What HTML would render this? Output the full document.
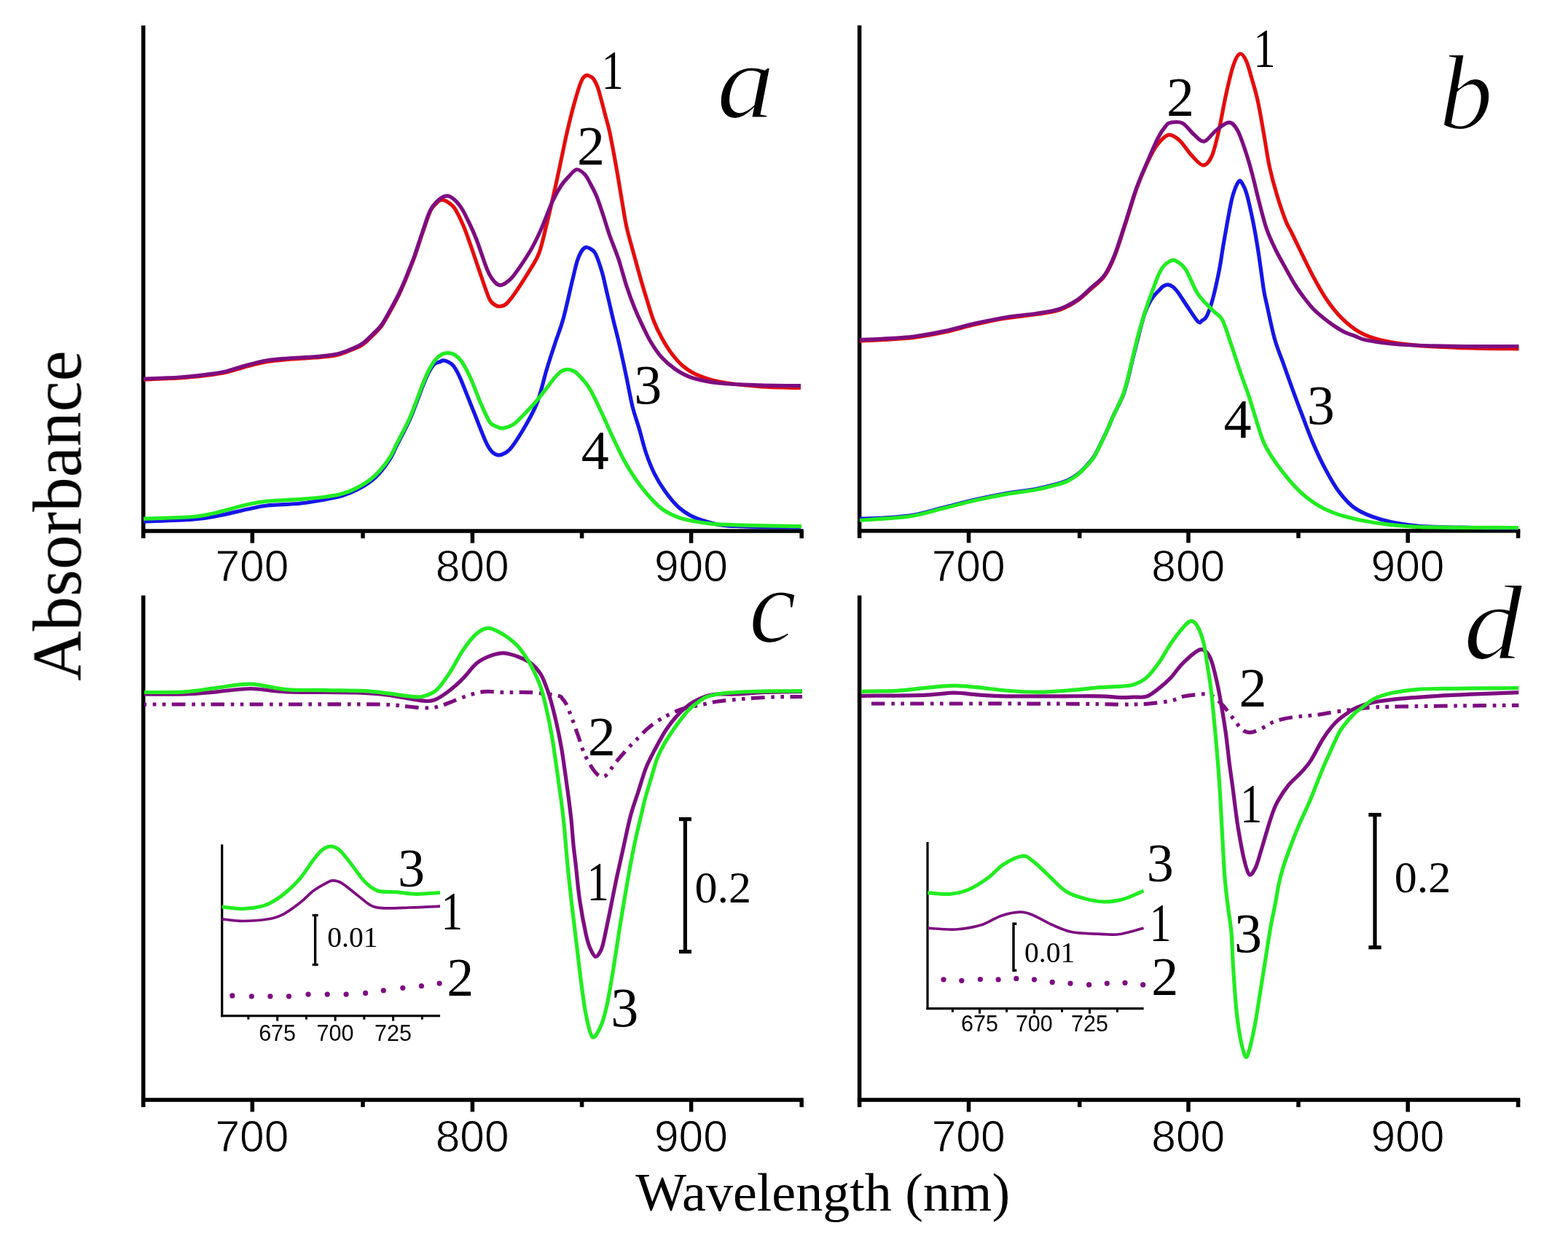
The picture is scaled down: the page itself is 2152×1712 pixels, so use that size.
<!DOCTYPE html>
<html><head><meta charset="utf-8"><title>Absorbance spectra</title>
<style>html,body{margin:0;padding:0;background:#fff;}svg{display:block;}</style></head>
<body><svg width="2152" height="1712" viewBox="0 0 2152 1712">
<defs><filter id="soft" x="0" y="0" width="1" height="1"><feGaussianBlur stdDeviation="0.7"/></filter></defs>
<rect width="2152" height="1712" fill="#fff"/>
<g filter="url(#soft)">
<line x1="196.7" y1="35" x2="196.7" y2="739.1" stroke="#000" stroke-width="5.5" stroke-linecap="butt"/>
<line x1="193.95" y1="729.1" x2="1102.8" y2="729.1" stroke="#000" stroke-width="5.5" stroke-linecap="butt"/>
<line x1="346.3" y1="729.1" x2="346.3" y2="745.6" stroke="#000" stroke-width="5.5" stroke-linecap="butt"/>
<line x1="648.4" y1="729.1" x2="648.4" y2="745.6" stroke="#000" stroke-width="5.5" stroke-linecap="butt"/>
<line x1="948.6" y1="729.1" x2="948.6" y2="745.6" stroke="#000" stroke-width="5.5" stroke-linecap="butt"/>
<line x1="498.0" y1="729.1" x2="498.0" y2="739.1" stroke="#000" stroke-width="5.5" stroke-linecap="butt"/>
<line x1="798.6" y1="729.1" x2="798.6" y2="739.1" stroke="#000" stroke-width="5.5" stroke-linecap="butt"/>
<line x1="1100.2" y1="729.1" x2="1100.2" y2="739.1" stroke="#000" stroke-width="5.5" stroke-linecap="butt"/>
<line x1="1179.6" y1="34.8" x2="1179.6" y2="738.8" stroke="#000" stroke-width="5.5" stroke-linecap="butt"/>
<line x1="1176.85" y1="728.8" x2="2086.3" y2="728.8" stroke="#000" stroke-width="5.5" stroke-linecap="butt"/>
<line x1="1329.5" y1="728.8" x2="1329.5" y2="745.3" stroke="#000" stroke-width="5.5" stroke-linecap="butt"/>
<line x1="1631.0" y1="728.8" x2="1631.0" y2="745.3" stroke="#000" stroke-width="5.5" stroke-linecap="butt"/>
<line x1="1932.2" y1="728.8" x2="1932.2" y2="745.3" stroke="#000" stroke-width="5.5" stroke-linecap="butt"/>
<line x1="1481.7" y1="728.8" x2="1481.7" y2="738.8" stroke="#000" stroke-width="5.5" stroke-linecap="butt"/>
<line x1="1782.0" y1="728.8" x2="1782.0" y2="738.8" stroke="#000" stroke-width="5.5" stroke-linecap="butt"/>
<line x1="2083.6" y1="728.8" x2="2083.6" y2="738.8" stroke="#000" stroke-width="5.5" stroke-linecap="butt"/>
<line x1="196.7" y1="817.5" x2="196.7" y2="1519.9" stroke="#000" stroke-width="5.5" stroke-linecap="butt"/>
<line x1="193.95" y1="1509.9" x2="1102.8" y2="1509.9" stroke="#000" stroke-width="5.5" stroke-linecap="butt"/>
<line x1="346.3" y1="1509.9" x2="346.3" y2="1526.4" stroke="#000" stroke-width="5.5" stroke-linecap="butt"/>
<line x1="648.4" y1="1509.9" x2="648.4" y2="1526.4" stroke="#000" stroke-width="5.5" stroke-linecap="butt"/>
<line x1="948.6" y1="1509.9" x2="948.6" y2="1526.4" stroke="#000" stroke-width="5.5" stroke-linecap="butt"/>
<line x1="498.0" y1="1509.9" x2="498.0" y2="1519.9" stroke="#000" stroke-width="5.5" stroke-linecap="butt"/>
<line x1="798.6" y1="1509.9" x2="798.6" y2="1519.9" stroke="#000" stroke-width="5.5" stroke-linecap="butt"/>
<line x1="1100.2" y1="1509.9" x2="1100.2" y2="1519.9" stroke="#000" stroke-width="5.5" stroke-linecap="butt"/>
<line x1="1179.6" y1="817.6" x2="1179.6" y2="1520" stroke="#000" stroke-width="5.5" stroke-linecap="butt"/>
<line x1="1176.85" y1="1510" x2="2086.3" y2="1510" stroke="#000" stroke-width="5.5" stroke-linecap="butt"/>
<line x1="1329.5" y1="1510" x2="1329.5" y2="1526.5" stroke="#000" stroke-width="5.5" stroke-linecap="butt"/>
<line x1="1631.0" y1="1510" x2="1631.0" y2="1526.5" stroke="#000" stroke-width="5.5" stroke-linecap="butt"/>
<line x1="1932.2" y1="1510" x2="1932.2" y2="1526.5" stroke="#000" stroke-width="5.5" stroke-linecap="butt"/>
<line x1="1481.7" y1="1510" x2="1481.7" y2="1520" stroke="#000" stroke-width="5.5" stroke-linecap="butt"/>
<line x1="1782.0" y1="1510" x2="1782.0" y2="1520" stroke="#000" stroke-width="5.5" stroke-linecap="butt"/>
<line x1="2083.6" y1="1510" x2="2083.6" y2="1520" stroke="#000" stroke-width="5.5" stroke-linecap="butt"/>
<text x="295.48" y="798.27" font-family="Liberation Sans, Arial, sans-serif" font-style="normal" font-size="60.5" stroke="#fff" stroke-width="0.9">700</text>
<text x="597.73" y="798.27" font-family="Liberation Sans, Arial, sans-serif" font-style="normal" font-size="60.5" stroke="#fff" stroke-width="0.9">800</text>
<text x="897.93" y="798.27" font-family="Liberation Sans, Arial, sans-serif" font-style="normal" font-size="60.5" stroke="#fff" stroke-width="0.9">900</text>
<text x="1278.68" y="798.27" font-family="Liberation Sans, Arial, sans-serif" font-style="normal" font-size="60.5" stroke="#fff" stroke-width="0.9">700</text>
<text x="1580.33" y="798.27" font-family="Liberation Sans, Arial, sans-serif" font-style="normal" font-size="60.5" stroke="#fff" stroke-width="0.9">800</text>
<text x="1881.53" y="798.27" font-family="Liberation Sans, Arial, sans-serif" font-style="normal" font-size="60.5" stroke="#fff" stroke-width="0.9">900</text>
<text x="295.48" y="1580.77" font-family="Liberation Sans, Arial, sans-serif" font-style="normal" font-size="60.5" stroke="#fff" stroke-width="0.9">700</text>
<text x="597.73" y="1580.77" font-family="Liberation Sans, Arial, sans-serif" font-style="normal" font-size="60.5" stroke="#fff" stroke-width="0.9">800</text>
<text x="897.93" y="1580.77" font-family="Liberation Sans, Arial, sans-serif" font-style="normal" font-size="60.5" stroke="#fff" stroke-width="0.9">900</text>
<text x="1278.68" y="1580.97" font-family="Liberation Sans, Arial, sans-serif" font-style="normal" font-size="60.5" stroke="#fff" stroke-width="0.9">700</text>
<text x="1580.33" y="1580.97" font-family="Liberation Sans, Arial, sans-serif" font-style="normal" font-size="60.5" stroke="#fff" stroke-width="0.9">800</text>
<text x="1881.53" y="1580.97" font-family="Liberation Sans, Arial, sans-serif" font-style="normal" font-size="60.5" stroke="#fff" stroke-width="0.9">900</text>
<path d="M197.0,521.0 C205.2,520.7 231.7,519.9 246.0,519.0 C260.3,518.1 272.2,516.8 283.0,515.5 C293.8,514.2 301.7,513.1 311.0,511.0 C320.3,508.9 329.7,505.4 339.0,503.0 C348.3,500.6 357.7,498.1 367.0,496.5 C376.3,494.9 384.2,494.4 395.0,493.5 C405.8,492.6 421.2,491.9 432.0,491.0 C442.8,490.1 452.3,489.5 460.0,488.0 C467.7,486.5 471.8,484.4 478.0,482.0 C484.2,479.6 491.3,477.2 497.0,473.5 C502.7,469.8 507.6,464.2 512.0,460.0 C516.4,455.8 519.4,453.4 523.3,448.0 C527.2,442.6 531.5,434.4 535.4,427.5 C539.3,420.6 543.5,412.8 546.6,406.5 C549.7,400.2 551.6,395.8 554.1,390.0 C556.6,384.2 559.1,377.8 561.6,371.5 C564.1,365.2 565.9,361.2 569.0,352.5 C572.1,343.8 576.3,330.1 580.0,319.5 C583.7,308.9 587.7,295.9 591.0,289.0 C594.3,282.1 597.7,280.4 600.0,278.0 C602.3,275.6 603.0,274.8 605.0,274.5 C607.0,274.2 608.8,274.1 612.0,276.0 C615.2,277.9 620.0,280.3 624.0,286.0 C628.0,291.7 632.3,301.5 636.0,310.0 C639.7,318.5 641.8,325.2 646.0,337.0 C650.2,348.8 656.7,368.7 661.0,381.0 C665.3,393.3 668.8,404.7 672.0,411.0 C675.2,417.3 677.6,417.4 680.0,419.0 C682.4,420.6 684.0,421.0 686.5,420.7 C689.0,420.4 691.8,419.9 695.0,417.0 C698.2,414.1 700.5,411.5 706.0,403.6 C711.5,395.7 722.3,378.8 728.0,369.4 C733.7,360.0 736.2,357.4 740.0,347.0 C743.8,336.6 747.0,321.2 750.5,307.0 C754.0,292.8 757.9,275.7 761.0,262.0 C764.1,248.3 766.5,236.8 769.0,225.0 C771.5,213.2 773.8,201.7 776.0,191.5 C778.2,181.3 780.5,171.8 782.5,163.6 C784.5,155.4 785.9,149.9 788.0,142.5 C790.1,135.1 792.9,125.0 795.0,119.0 C797.1,113.0 798.6,109.4 800.4,106.8 C802.2,104.2 804.1,103.5 806.0,103.4 C807.9,103.3 810.5,105.1 812.0,106.0 C813.5,106.9 813.6,106.7 815.0,109.0 C816.4,111.3 818.6,114.8 820.4,120.0 C822.2,125.2 824.1,133.1 826.0,140.0 C827.9,146.9 829.9,155.1 831.6,161.4 C833.3,167.7 834.5,171.5 836.0,178.0 C837.5,184.5 839.0,192.6 840.5,200.4 C842.0,208.2 843.6,217.1 845.0,225.0 C846.4,232.9 847.7,240.2 849.0,248.0 C850.3,255.8 851.2,261.5 853.0,272.0 C854.8,282.5 857.1,298.6 859.8,311.0 C862.5,323.4 866.1,335.0 869.2,346.5 C872.3,358.0 875.4,369.3 878.5,380.2 C881.6,391.1 884.9,402.0 888.0,412.0 C891.1,422.0 893.6,431.3 897.0,440.0 C900.4,448.7 904.3,456.8 908.4,464.3 C912.5,471.8 916.8,478.8 921.5,485.0 C926.2,491.2 930.8,496.9 936.4,501.7 C942.0,506.5 946.6,510.1 955.0,513.8 C963.4,517.5 972.3,521.2 987.0,524.0 C1001.7,526.8 1024.3,529.3 1043.0,530.7 C1061.7,532.1 1089.7,532.2 1099.0,532.5" fill="none" stroke="#e40e0e" stroke-width="5.2" stroke-linejoin="round" stroke-linecap="butt" />
<path d="M197.0,520.0 C205.2,519.7 231.7,519.0 246.0,518.0 C260.3,517.0 272.2,515.7 283.0,514.3 C293.8,512.9 301.7,511.9 311.0,509.7 C320.3,507.5 329.7,503.8 339.0,501.3 C348.3,498.8 357.7,496.4 367.0,494.8 C376.3,493.2 384.2,492.8 395.0,492.0 C405.8,491.2 421.2,490.7 432.0,489.8 C442.8,488.9 452.3,488.0 460.0,486.5 C467.7,485.0 471.8,483.4 478.0,481.0 C484.2,478.6 491.3,475.8 497.0,472.0 C502.7,468.2 507.6,462.8 512.0,458.5 C516.4,454.2 519.4,451.9 523.3,446.5 C527.2,441.1 531.5,432.9 535.4,426.0 C539.3,419.1 543.5,411.2 546.6,405.0 C549.7,398.8 551.6,394.3 554.1,388.5 C556.6,382.7 559.1,376.2 561.6,370.0 C564.1,363.8 565.9,359.7 569.0,351.0 C572.1,342.3 576.3,328.5 580.0,318.0 C583.7,307.5 586.8,295.7 591.0,288.0 C595.2,280.3 600.7,275.1 605.0,272.0 C609.3,268.9 612.6,267.9 617.0,269.7 C621.4,271.5 627.2,277.3 631.5,283.0 C635.8,288.7 639.2,296.3 643.0,304.0 C646.8,311.7 649.7,317.8 654.0,329.0 C658.3,340.2 665.0,361.5 669.0,371.0 C673.0,380.5 675.1,382.6 678.0,386.0 C680.9,389.4 683.5,391.5 686.5,391.7 C689.5,391.9 692.8,389.4 696.0,387.0 C699.2,384.6 700.7,384.2 706.0,377.0 C711.3,369.8 721.8,354.5 728.0,344.0 C734.2,333.5 738.0,325.2 743.0,314.0 C748.0,302.8 753.5,286.8 758.0,277.0 C762.5,267.2 766.3,260.7 770.0,255.0 C773.7,249.3 776.4,246.7 780.0,243.0 C783.6,239.3 787.6,233.4 791.4,232.8 C795.2,232.2 799.5,236.3 802.6,239.5 C805.7,242.7 807.3,246.6 810.0,251.7 C812.7,256.8 816.0,262.6 819.0,270.0 C822.0,277.4 825.0,287.0 828.0,296.0 C831.0,305.0 833.5,314.0 837.0,324.0 C840.5,334.0 845.2,344.5 849.0,356.0 C852.8,367.5 856.3,381.8 860.0,393.0 C863.7,404.2 867.3,413.9 871.0,423.0 C874.7,432.1 878.2,439.7 882.0,447.5 C885.8,455.3 889.2,462.8 893.5,470.0 C897.8,477.2 902.4,484.3 908.0,490.5 C913.6,496.7 920.1,502.3 927.0,507.0 C933.9,511.7 939.5,515.3 949.5,518.5 C959.5,521.7 971.4,524.3 987.0,526.0 C1002.6,527.7 1024.3,528.2 1043.0,528.8 C1061.7,529.4 1089.7,529.6 1099.0,529.7" fill="none" stroke="#7d0a80" stroke-width="5.2" stroke-linejoin="round" stroke-linecap="butt" />
<path d="M197.0,716.0 C208.2,715.5 246.8,714.5 264.0,713.2 C281.2,711.9 287.5,710.3 300.0,708.0 C312.5,705.7 327.8,701.6 339.0,699.3 C350.2,697.0 354.7,695.4 367.0,694.0 C379.3,692.6 399.2,692.5 413.0,691.0 C426.8,689.5 440.5,686.8 450.0,685.0 C459.5,683.2 463.6,682.5 470.0,680.5 C476.4,678.5 482.5,676.1 488.7,673.0 C494.9,669.9 501.9,666.0 507.4,662.0 C512.9,658.0 516.7,654.3 521.4,649.0 C526.1,643.7 531.5,636.3 535.4,630.0 C539.3,623.7 541.7,617.2 544.8,611.0 C547.9,604.8 551.0,599.2 554.1,593.0 C557.2,586.8 560.6,580.2 563.5,573.5 C566.4,566.8 568.9,559.8 571.7,552.5 C574.5,545.2 577.7,536.2 580.4,529.5 C583.1,522.8 585.4,516.9 588.0,512.0 C590.6,507.1 593.5,502.5 596.0,500.0 C598.5,497.5 600.7,497.8 603.0,497.0 C605.3,496.2 606.8,494.3 610.0,495.1 C613.2,495.9 618.6,498.4 622.0,502.0 C625.4,505.6 627.8,511.1 630.5,516.7 C633.2,522.3 635.0,527.3 638.4,535.7 C641.8,544.1 646.3,555.5 651.0,567.3 C655.7,579.1 662.8,597.9 666.8,606.7 C670.8,615.5 672.1,617.0 675.0,620.0 C677.9,623.0 681.0,624.5 684.0,624.8 C687.0,625.1 689.8,624.0 693.0,622.0 C696.2,620.0 698.2,619.5 703.0,613.0 C707.8,606.5 716.2,593.2 722.0,583.0 C727.8,572.8 733.0,564.1 737.7,551.5 C742.4,538.9 746.3,520.5 750.3,507.3 C754.2,494.2 757.6,484.2 761.4,472.6 C765.2,461.0 769.1,451.8 773.0,437.8 C776.9,423.8 781.5,401.8 784.7,388.7 C787.9,375.6 789.8,366.3 792.0,359.0 C794.2,351.7 796.0,348.2 798.0,345.0 C800.0,341.8 801.8,340.1 804.0,339.6 C806.2,339.1 808.8,340.5 811.0,342.0 C813.2,343.5 814.9,343.2 817.4,348.5 C819.9,353.8 823.6,364.5 826.3,373.8 C829.0,383.1 831.1,394.1 833.6,404.5 C836.1,414.9 838.2,424.6 841.0,436.3 C843.8,448.1 847.4,461.4 850.5,475.0 C853.6,488.6 856.9,504.2 859.8,518.0 C862.7,531.8 865.1,546.2 868.0,558.0 C870.9,569.8 874.3,578.3 877.4,589.0 C880.5,599.7 883.2,611.7 886.7,622.0 C890.2,632.3 894.0,642.0 898.3,650.6 C902.6,659.2 907.1,666.4 912.3,673.8 C917.5,681.2 923.9,689.2 929.7,694.8 C935.5,700.4 941.3,704.2 947.1,707.5 C952.9,710.8 957.8,712.3 964.6,714.5 C971.4,716.7 980.1,719.3 987.8,720.6 C995.5,721.9 1000.6,722.0 1011.0,722.5 C1021.4,723.0 1035.3,723.2 1050.0,723.5 C1064.7,723.8 1090.8,723.9 1099.0,724.0" fill="none" stroke="#1414e6" stroke-width="5.2" stroke-linejoin="round" stroke-linecap="butt" />
<path d="M197.0,712.3 C208.2,711.8 248.2,710.7 264.0,709.5 C279.8,708.3 279.5,707.8 292.0,705.0 C304.5,702.2 326.5,695.6 339.0,692.8 C351.5,690.0 354.7,689.3 367.0,688.1 C379.3,686.9 399.2,686.5 413.0,685.4 C426.8,684.3 440.5,682.9 450.0,681.6 C459.5,680.3 463.6,679.7 470.0,677.8 C476.4,675.9 482.5,673.4 488.7,670.3 C494.9,667.2 501.9,663.1 507.4,659.1 C512.9,655.1 516.7,651.3 521.4,646.0 C526.1,640.7 531.5,633.5 535.4,627.3 C539.3,621.1 541.7,614.7 544.8,608.6 C547.9,602.5 551.0,597.0 554.1,590.8 C557.2,584.6 560.6,578.0 563.5,571.2 C566.4,564.4 568.9,557.5 571.7,550.1 C574.5,542.7 577.7,533.8 580.4,527.0 C583.1,520.2 585.3,514.9 588.0,509.5 C590.7,504.1 593.7,498.7 596.8,494.8 C599.9,490.9 603.5,488.0 606.7,486.3 C609.9,484.6 612.9,484.4 615.9,484.6 C618.9,484.8 621.8,485.6 624.7,487.5 C627.6,489.4 629.9,490.9 633.5,496.3 C637.1,501.7 642.0,510.7 646.2,519.9 C650.4,529.1 654.7,541.8 658.9,551.5 C663.1,561.2 668.0,572.7 671.5,578.3 C675.0,583.9 676.9,583.4 680.0,585.0 C683.1,586.6 686.0,588.4 690.4,587.8 C694.8,587.2 699.6,586.5 706.2,581.5 C712.8,576.5 723.2,564.9 729.8,557.8 C736.4,550.7 740.3,545.5 745.6,538.9 C750.9,532.3 757.3,523.2 761.4,518.4 C765.5,513.6 767.4,511.9 770.0,510.0 C772.6,508.1 774.7,507.6 777.2,507.3 C779.7,507.1 782.4,507.4 785.0,508.5 C787.6,509.6 788.9,509.6 792.9,513.6 C796.9,517.6 803.4,524.2 808.7,532.6 C814.0,541.0 819.2,553.1 824.5,564.1 C829.8,575.1 835.0,587.6 840.3,598.8 C845.5,609.9 850.8,621.3 856.0,631.0 C861.2,640.7 866.5,649.2 871.8,657.0 C877.1,664.8 881.8,671.0 887.6,677.7 C893.4,684.4 899.5,691.7 906.5,697.1 C913.5,702.5 922.0,706.8 929.7,709.9 C937.4,713.0 945.1,714.2 952.9,715.7 C960.6,717.2 966.5,718.3 976.2,719.2 C985.9,720.1 990.4,720.3 1011.0,720.9 C1031.6,721.5 1085.2,722.3 1100.0,722.6" fill="none" stroke="#22ec22" stroke-width="5.2" stroke-linejoin="round" stroke-linecap="butt" />
<path d="M1180.0,468.0 C1185.3,467.8 1199.7,467.2 1212.0,466.5 C1224.3,465.8 1240.0,465.2 1254.0,463.5 C1268.0,461.8 1282.0,459.0 1296.0,456.0 C1310.0,453.0 1324.0,448.7 1338.0,445.5 C1352.0,442.3 1366.0,439.3 1380.0,437.0 C1394.0,434.7 1409.7,433.4 1422.0,431.5 C1434.3,429.6 1444.5,428.7 1454.0,425.5 C1463.5,422.3 1471.7,417.4 1479.0,412.5 C1486.3,407.6 1491.8,401.6 1498.0,396.0 C1504.2,390.4 1510.6,386.4 1515.9,379.0 C1521.2,371.6 1525.2,363.0 1529.8,351.5 C1534.4,340.0 1538.7,325.2 1543.7,310.0 C1548.7,294.8 1554.6,274.0 1559.6,260.0 C1564.6,246.0 1569.2,235.5 1573.5,226.0 C1577.8,216.5 1581.8,208.8 1585.4,203.0 C1589.0,197.2 1591.7,194.0 1595.0,191.0 C1598.3,188.0 1601.3,184.8 1605.3,185.1 C1609.3,185.4 1614.2,188.5 1619.2,193.1 C1624.2,197.7 1629.8,207.3 1635.1,212.9 C1640.4,218.5 1646.4,226.5 1651.0,226.8 C1655.6,227.1 1659.3,222.8 1662.9,214.9 C1666.5,207.0 1669.5,193.4 1672.8,179.2 C1676.1,165.0 1679.4,144.4 1682.7,129.5 C1686.0,114.6 1689.6,99.1 1692.7,89.8 C1695.8,80.5 1698.6,74.9 1701.6,73.9 C1704.6,72.9 1707.7,77.8 1710.5,83.8 C1713.3,89.8 1715.8,100.4 1718.5,109.7 C1721.2,119.0 1723.8,127.2 1726.4,139.4 C1729.1,151.6 1731.8,168.2 1734.4,183.1 C1737.1,198.0 1739.3,214.9 1742.3,228.8 C1745.3,242.7 1748.5,254.4 1752.2,266.6 C1755.9,278.9 1760.9,293.7 1764.2,302.3 C1767.5,310.9 1768.5,310.9 1772.0,318.0 C1775.5,325.1 1780.0,334.8 1785.1,345.2 C1790.2,355.6 1796.8,369.5 1802.7,380.4 C1808.6,391.3 1813.9,401.3 1820.2,410.5 C1826.5,419.7 1832.8,428.1 1840.3,435.6 C1847.8,443.1 1856.3,450.5 1865.5,455.7 C1874.7,460.9 1882.2,463.9 1895.6,467.0 C1909.0,470.1 1924.9,472.5 1945.8,474.3 C1966.7,476.1 1998.1,477.2 2021.2,478.0 C2044.3,478.8 2073.9,478.7 2084.5,478.8" fill="none" stroke="#e40e0e" stroke-width="5.2" stroke-linejoin="round" stroke-linecap="butt" />
<path d="M1180.0,466.5 C1185.3,466.3 1199.7,465.9 1212.0,465.2 C1224.3,464.4 1240.0,463.8 1254.0,462.0 C1268.0,460.2 1282.0,457.6 1296.0,454.6 C1310.0,451.6 1324.0,447.2 1338.0,444.1 C1352.0,441.0 1366.0,438.0 1380.0,435.7 C1394.0,433.4 1409.7,432.4 1422.0,430.5 C1434.3,428.6 1444.5,427.4 1454.0,424.2 C1463.5,421.0 1471.7,416.4 1479.0,411.5 C1486.3,406.6 1491.8,400.3 1498.0,394.7 C1504.2,389.1 1510.6,385.2 1515.9,377.8 C1521.2,370.4 1525.2,361.6 1529.8,350.0 C1534.4,338.4 1538.7,323.5 1543.7,308.3 C1548.7,293.1 1554.6,272.5 1559.6,258.6 C1564.6,244.7 1568.5,236.4 1573.5,224.8 C1578.5,213.2 1585.0,197.7 1589.4,189.1 C1593.8,180.5 1597.0,176.5 1600.0,173.0 C1603.0,169.5 1603.4,168.8 1607.2,168.2 C1611.0,167.6 1617.8,166.4 1623.1,169.2 C1628.4,172.0 1634.0,180.9 1639.0,185.1 C1644.0,189.2 1647.9,195.1 1652.9,194.1 C1657.9,193.1 1663.2,183.5 1668.8,179.2 C1674.4,174.9 1681.7,168.2 1686.7,168.2 C1691.7,168.2 1694.6,172.1 1698.6,179.2 C1702.6,186.3 1707.2,201.1 1710.5,211.0 C1713.8,220.9 1715.5,227.4 1718.5,238.7 C1721.5,249.9 1725.1,265.9 1728.4,278.5 C1731.7,291.1 1734.7,303.6 1738.3,314.2 C1741.9,324.8 1746.0,333.1 1750.3,342.0 C1754.6,350.9 1759.6,359.5 1764.2,367.8 C1768.8,376.1 1773.7,385.1 1778.0,392.0 C1782.3,398.9 1786.0,403.8 1790.0,409.0 C1794.0,414.2 1797.6,419.1 1801.8,423.5 C1806.0,427.9 1810.7,431.8 1815.2,435.5 C1819.7,439.2 1824.0,442.6 1829.0,446.0 C1834.0,449.4 1840.2,453.4 1845.4,456.0 C1850.6,458.6 1855.0,459.7 1860.0,461.5 C1865.0,463.3 1865.4,465.1 1875.5,467.0 C1885.6,468.9 1900.6,471.6 1920.7,473.0 C1940.8,474.4 1968.7,474.9 1996.0,475.3 C2023.3,475.7 2069.8,475.5 2084.5,475.5" fill="none" stroke="#7d0a80" stroke-width="5.2" stroke-linejoin="round" stroke-linecap="butt" />
<path d="M1180.0,712.2 C1185.3,712.0 1199.7,711.9 1212.0,711.0 C1224.3,710.1 1240.0,709.4 1254.0,707.0 C1268.0,704.6 1282.0,700.0 1296.0,696.5 C1310.0,693.0 1324.0,689.1 1338.0,686.0 C1352.0,682.9 1366.0,680.1 1380.0,677.6 C1394.0,675.1 1409.7,673.6 1422.0,671.3 C1434.3,668.9 1446.7,665.5 1454.0,663.5 C1461.3,661.5 1461.7,661.2 1466.0,659.0 C1470.3,656.8 1475.6,653.6 1479.6,650.5 C1483.6,647.4 1486.4,644.3 1490.0,640.5 C1493.6,636.7 1497.7,632.5 1501.0,627.5 C1504.3,622.5 1506.9,616.8 1510.0,610.5 C1513.1,604.2 1517.0,596.2 1519.8,590.0 C1522.6,583.8 1524.7,578.2 1527.0,573.0 C1529.3,567.8 1531.3,564.3 1533.8,559.0 C1536.3,553.7 1539.6,547.4 1542.0,541.0 C1544.4,534.6 1546.0,528.3 1548.0,520.5 C1550.0,512.7 1551.7,504.6 1554.3,494.0 C1556.9,483.4 1560.9,467.3 1563.6,457.0 C1566.3,446.7 1568.4,438.4 1570.5,432.0 C1572.6,425.6 1574.0,422.5 1576.0,418.5 C1578.0,414.5 1579.8,411.3 1582.3,408.0 C1584.8,404.7 1588.3,401.2 1590.7,398.7 C1593.1,396.2 1594.5,394.3 1596.5,393.0 C1598.5,391.7 1600.7,390.6 1602.9,390.8 C1605.2,391.0 1607.7,392.2 1610.0,394.0 C1612.3,395.8 1613.6,397.1 1616.8,401.5 C1620.0,405.9 1624.9,413.8 1629.4,420.5 C1634.0,427.2 1640.7,438.2 1644.1,441.5 C1647.5,444.8 1647.9,441.4 1650.0,440.0 C1652.1,438.6 1654.2,438.5 1656.7,433.1 C1659.2,427.7 1662.3,418.3 1665.1,407.8 C1667.9,397.3 1671.2,381.6 1673.5,370.0 C1675.8,358.4 1676.2,352.6 1678.7,338.0 C1681.2,323.4 1686.2,295.1 1688.7,282.4 C1691.2,269.7 1692.0,267.6 1694.0,262.0 C1696.0,256.4 1698.8,250.4 1700.6,248.7 C1702.4,247.0 1703.3,249.3 1705.0,252.0 C1706.7,254.7 1708.2,256.9 1710.5,264.6 C1712.8,272.3 1715.8,285.4 1718.5,298.3 C1721.2,311.2 1723.8,325.4 1726.4,342.0 C1729.1,358.6 1732.4,384.9 1734.4,397.6 C1736.5,410.3 1736.2,407.2 1738.7,418.4 C1741.2,429.6 1745.4,450.9 1749.2,464.6 C1753.0,478.3 1757.6,488.5 1761.8,500.4 C1766.0,512.3 1770.3,524.5 1774.5,536.1 C1778.7,547.7 1782.5,557.8 1787.1,569.7 C1791.6,581.6 1796.5,595.3 1801.8,607.6 C1807.0,619.9 1812.6,632.1 1818.6,643.3 C1824.5,654.5 1830.6,665.8 1837.5,674.9 C1844.4,684.0 1850.3,691.6 1860.0,698.0 C1869.7,704.4 1881.3,709.2 1895.6,713.2 C1909.9,717.2 1924.9,720.1 1945.8,722.0 C1966.7,723.9 1998.2,724.0 2021.2,724.5 C2044.2,725.0 2073.5,724.9 2084.0,725.0" fill="none" stroke="#1414e6" stroke-width="5.2" stroke-linejoin="round" stroke-linecap="butt" />
<path d="M1180.0,714.3 C1185.3,713.9 1199.7,713.2 1212.0,712.2 C1224.3,711.2 1240.0,710.5 1254.0,708.0 C1268.0,705.5 1282.0,701.0 1296.0,697.5 C1310.0,694.0 1324.0,690.1 1338.0,687.0 C1352.0,683.9 1366.0,681.1 1380.0,678.6 C1394.0,676.1 1409.7,674.6 1422.0,672.3 C1434.3,669.9 1446.7,666.5 1454.0,664.5 C1461.3,662.5 1461.7,662.2 1466.0,660.0 C1470.3,657.8 1475.6,654.4 1479.6,651.2 C1483.6,648.0 1486.4,644.9 1490.0,641.0 C1493.6,637.1 1497.7,633.1 1501.0,628.1 C1504.3,623.1 1506.9,617.3 1510.0,611.0 C1513.1,604.7 1517.0,596.6 1519.8,590.3 C1522.6,584.0 1524.7,578.3 1527.0,573.0 C1529.3,567.7 1531.3,564.2 1533.8,558.7 C1536.3,553.2 1539.6,546.6 1542.0,540.0 C1544.4,533.4 1546.0,527.0 1548.0,519.0 C1550.0,511.0 1551.7,502.8 1554.3,492.1 C1556.9,481.4 1560.6,465.7 1563.6,454.8 C1566.5,443.9 1569.0,436.1 1572.0,426.7 C1575.0,417.3 1579.1,406.5 1581.9,398.7 C1584.7,390.9 1586.6,385.4 1588.9,380.0 C1591.2,374.6 1593.3,370.0 1596.0,366.5 C1598.7,363.0 1602.1,360.4 1605.0,359.0 C1607.9,357.6 1609.5,356.1 1613.2,357.9 C1616.9,359.7 1621.9,362.2 1627.1,369.8 C1632.2,377.4 1637.8,394.1 1644.1,403.6 C1650.4,413.1 1659.5,420.8 1665.1,426.8 C1670.7,432.8 1673.5,431.3 1677.7,439.4 C1681.9,447.4 1686.2,462.8 1690.4,475.1 C1694.6,487.4 1699.2,501.8 1703.0,513.0 C1706.8,524.2 1710.0,531.9 1713.5,542.4 C1717.0,552.9 1720.5,565.2 1724.0,576.1 C1727.5,587.0 1730.3,598.2 1734.5,607.6 C1738.7,617.0 1743.2,624.0 1749.2,632.8 C1755.2,641.6 1763.3,652.1 1770.3,660.2 C1777.3,668.3 1783.6,674.9 1791.3,681.2 C1799.0,687.5 1807.7,693.5 1816.5,698.0 C1825.3,702.5 1832.8,705.3 1843.9,708.5 C1855.0,711.7 1866.0,714.5 1883.0,717.0 C1900.0,719.5 1912.3,722.0 1945.8,723.3 C1979.3,724.5 2061.0,724.3 2084.0,724.5" fill="none" stroke="#22ec22" stroke-width="5.2" stroke-linejoin="round" stroke-linecap="butt" />
<path d="M198.0,967.0 C215.0,967.0 266.3,967.0 300.0,967.0 C333.7,967.0 363.3,967.0 400.0,967.0 C436.7,967.0 493.3,966.5 520.0,967.0 C546.7,967.5 550.0,969.2 560.0,970.0 C570.0,970.8 573.3,971.9 580.0,972.0 C586.7,972.1 593.8,971.8 600.0,970.5 C606.2,969.2 611.2,966.7 617.2,964.5 C623.2,962.3 628.1,959.6 635.8,957.1 C643.5,954.6 654.3,950.8 663.6,949.7 C672.9,948.6 680.6,950.5 691.5,950.6 C702.4,950.8 716.3,949.8 728.7,950.6 C741.1,951.4 758.7,953.7 765.9,955.2 C773.1,956.7 770.1,957.6 772.0,959.5 C773.9,961.4 774.9,962.1 777.0,966.4 C779.1,970.6 781.7,977.6 784.5,985.0 C787.3,992.4 790.7,1002.3 793.8,1011.0 C796.9,1019.7 799.0,1028.6 803.0,1037.0 C807.0,1045.4 813.4,1056.4 817.9,1061.2 C822.4,1066.0 825.7,1068.0 830.0,1065.8 C834.3,1063.6 840.1,1052.9 843.9,1048.2 C847.7,1043.5 849.4,1041.4 852.6,1037.7 C855.8,1034.0 859.5,1029.8 862.9,1026.1 C866.3,1022.4 868.8,1020.1 873.1,1015.8 C877.4,1011.5 883.5,1004.9 888.6,1000.4 C893.8,995.9 899.5,991.8 904.0,988.8 C908.5,985.8 910.9,984.8 915.6,982.4 C920.3,980.0 926.6,976.8 932.3,974.7 C938.0,972.6 944.4,971.3 950.0,970.0 C955.6,968.7 959.9,968.2 965.7,967.0 C971.5,965.8 976.0,964.2 985.0,963.0 C994.0,961.8 1007.5,960.5 1020.0,959.5 C1032.5,958.5 1046.5,957.5 1060.0,957.0 C1073.5,956.5 1094.2,956.6 1101.0,956.5" fill="none" stroke="#7d0a80" stroke-width="5.2" stroke-linejoin="round" stroke-linecap="butt" stroke-dasharray="18.6 8.8 4.6 8.4 4.6 8.4" stroke-dashoffset="15.5"/>
<path d="M198.0,953.0 C207.3,953.0 237.5,953.5 254.0,953.0 C270.5,952.5 282.0,951.0 297.0,949.8 C312.0,948.5 328.0,945.5 344.0,945.5 C360.0,945.5 368.8,948.9 393.0,949.8 C417.2,950.7 465.8,950.2 489.0,950.9 C512.2,951.6 517.7,952.3 532.0,954.1 C546.3,955.9 564.3,960.4 575.0,961.5 C585.7,962.6 589.0,963.3 596.0,961.0 C603.0,958.7 610.6,952.8 617.2,947.8 C623.8,942.8 629.6,937.3 635.8,931.1 C642.0,924.9 648.1,915.7 654.3,910.6 C660.5,905.5 666.7,902.7 672.9,900.4 C679.1,898.1 685.3,896.6 691.5,896.7 C697.7,896.9 703.9,899.0 710.1,901.3 C716.3,903.6 723.4,906.6 728.7,910.6 C734.0,914.6 738.3,919.9 741.7,925.0 C745.1,930.1 746.6,934.9 749.0,941.0 C751.4,947.1 753.4,952.9 755.9,961.8 C758.4,970.7 761.6,983.6 764.1,994.5 C766.6,1005.4 768.7,1016.3 770.6,1027.2 C772.5,1038.1 773.9,1049.0 775.5,1059.9 C777.1,1070.8 778.6,1081.7 780.0,1092.6 C781.4,1103.5 782.8,1114.1 784.0,1125.3 C785.2,1136.5 785.9,1149.2 787.0,1160.0 C788.1,1170.8 789.1,1177.4 790.5,1190.0 C791.9,1202.6 793.3,1220.1 795.6,1235.6 C797.9,1251.1 801.9,1272.1 804.3,1283.2 C806.7,1294.3 807.8,1297.0 810.0,1302.0 C812.2,1307.0 815.0,1312.7 817.3,1313.4 C819.6,1314.1 822.2,1309.2 824.0,1306.0 C825.8,1302.8 826.0,1302.8 828.1,1294.0 C830.2,1285.2 833.8,1267.0 836.7,1252.9 C839.6,1238.9 842.5,1223.4 845.4,1209.7 C848.3,1196.0 850.7,1185.8 854.0,1170.8 C857.3,1155.8 861.8,1133.8 865.4,1120.0 C869.0,1106.2 872.3,1098.5 875.7,1087.8 C879.1,1077.1 882.8,1064.3 886.0,1055.7 C889.2,1047.1 891.8,1042.8 895.0,1036.4 C898.2,1030.0 902.1,1022.9 905.3,1017.1 C908.5,1011.3 910.7,1007.1 914.3,1001.7 C917.9,996.4 922.8,989.9 927.1,985.0 C931.4,980.1 935.7,975.8 940.0,972.1 C944.3,968.5 947.8,965.9 952.8,963.1 C957.8,960.3 964.6,957.1 970.0,955.4 C975.4,953.7 978.3,953.4 985.0,953.0 C991.7,952.6 999.2,953.4 1010.0,953.0 C1020.8,952.6 1034.8,951.1 1050.0,950.5 C1065.2,949.9 1092.5,949.7 1101.0,949.5" fill="none" stroke="#7d0a80" stroke-width="5.2" stroke-linejoin="round" stroke-linecap="butt" />
<path d="M198.0,950.5 C207.3,950.4 237.5,950.8 254.0,949.8 C270.5,948.8 282.0,946.2 297.0,944.4 C312.0,942.6 328.0,938.7 344.0,939.1 C360.0,939.5 375.9,945.2 393.0,946.6 C410.1,948.0 428.7,947.2 446.5,947.6 C464.3,948.0 485.8,948.0 500.0,948.7 C514.2,949.4 521.3,950.6 532.0,951.9 C542.7,953.1 556.0,955.5 564.0,956.2 C572.0,956.9 574.2,957.6 580.0,956.2 C585.8,954.8 592.4,953.2 598.6,947.8 C604.8,942.4 611.0,932.9 617.2,923.6 C623.4,914.3 629.6,901.0 635.8,892.0 C642.0,883.0 648.4,874.7 654.3,869.7 C660.2,864.8 664.9,862.0 671.1,862.3 C677.3,862.6 685.0,867.6 691.5,871.6 C698.0,875.6 704.5,880.6 710.1,886.5 C715.7,892.4 721.2,901.0 725.0,906.9 C728.8,912.8 730.0,915.6 733.0,922.0 C736.0,928.4 739.8,936.0 742.8,945.4 C745.8,954.8 748.5,967.2 751.0,978.1 C753.5,989.0 755.6,999.9 757.5,1010.8 C759.4,1021.7 760.8,1032.7 762.4,1043.6 C764.0,1054.5 765.5,1065.1 767.0,1076.0 C768.5,1086.9 770.2,1098.0 771.5,1109.0 C772.8,1120.0 773.8,1128.5 775.0,1141.7 C776.2,1154.9 777.4,1171.3 779.0,1188.0 C780.6,1204.7 782.8,1224.1 784.8,1242.1 C786.8,1260.1 789.1,1278.1 791.3,1296.1 C793.5,1314.1 795.6,1334.0 797.8,1350.2 C800.0,1366.4 801.8,1381.2 804.3,1393.4 C806.8,1405.6 809.7,1420.7 812.9,1423.6 C816.1,1426.5 820.5,1417.5 823.7,1410.7 C827.0,1403.9 829.5,1395.2 832.4,1382.6 C835.3,1370.0 838.1,1352.3 841.0,1335.0 C843.9,1317.7 846.5,1299.0 849.7,1278.8 C853.0,1258.6 857.0,1233.8 860.5,1214.0 C864.0,1194.2 867.6,1174.6 870.6,1160.0 C873.6,1145.4 875.7,1137.4 878.3,1126.4 C880.9,1115.4 883.4,1103.9 886.0,1094.2 C888.6,1084.5 891.1,1077.1 893.7,1068.5 C896.3,1059.9 898.6,1050.3 901.4,1042.8 C904.2,1035.3 907.2,1029.5 910.4,1023.5 C913.6,1017.5 916.9,1012.6 920.7,1006.8 C924.6,1001.0 929.2,994.4 933.5,988.8 C937.8,983.2 942.1,977.7 946.4,973.4 C950.7,969.1 955.4,965.9 959.3,963.1 C963.2,960.3 965.7,958.4 970.0,956.7 C974.3,955.0 980.0,953.9 985.0,953.0 C990.0,952.1 992.5,951.8 1000.0,951.2 C1007.5,950.6 1020.0,949.9 1030.0,949.5 C1040.0,949.1 1048.2,948.9 1060.0,948.8 C1071.8,948.6 1094.2,948.6 1101.0,948.6" fill="none" stroke="#22ec22" stroke-width="5.2" stroke-linejoin="round" stroke-linecap="butt" />
<path d="M1189.0,966.0 C1207.5,966.0 1264.8,966.0 1300.0,966.0 C1335.2,966.0 1366.7,965.9 1400.0,966.0 C1433.3,966.1 1476.7,966.3 1500.0,966.5 C1523.3,966.7 1527.8,967.2 1540.0,967.2 C1552.2,967.2 1562.3,967.1 1573.5,966.3 C1584.7,965.5 1598.6,963.9 1606.9,962.2 C1615.2,960.5 1618.0,957.7 1623.6,956.3 C1629.2,954.9 1634.3,954.2 1640.4,953.8 C1646.5,953.4 1654.3,951.6 1660.4,953.8 C1666.5,956.0 1672.2,962.2 1677.2,967.2 C1682.2,972.2 1686.0,978.3 1690.5,983.9 C1695.0,989.5 1700.0,997.0 1703.9,1000.6 C1707.8,1004.2 1709.8,1005.5 1714.0,1005.6 C1718.2,1005.8 1723.2,1004.0 1729.0,1001.5 C1734.8,999.0 1741.6,993.4 1749.1,990.6 C1756.6,987.8 1764.5,986.2 1774.2,984.7 C1784.0,983.2 1797.8,982.6 1807.6,981.4 C1817.3,980.1 1824.3,978.5 1832.7,977.2 C1841.1,976.0 1849.8,974.9 1857.8,973.9 C1865.8,972.9 1870.6,971.9 1881.0,971.3 C1891.4,970.6 1900.2,970.4 1920.0,970.0 C1939.8,969.6 1972.6,969.3 2000.0,969.0 C2027.4,968.7 2070.3,968.4 2084.4,968.3" fill="none" stroke="#7d0a80" stroke-width="5.2" stroke-linejoin="round" stroke-linecap="butt" stroke-dasharray="18.6 8.8 4.6 8.4 4.6 8.4" stroke-dashoffset="46.4"/>
<path d="M1182.0,955.4 C1196.3,955.2 1246.8,955.0 1268.0,954.3 C1289.2,953.6 1296.7,951.2 1309.0,951.1 C1321.3,951.0 1330.2,953.1 1342.0,953.9 C1353.8,954.7 1361.3,955.5 1380.0,955.8 C1398.7,956.1 1432.3,955.8 1454.0,955.8 C1475.7,955.8 1496.1,955.5 1510.0,955.8 C1523.9,956.1 1529.8,957.4 1537.5,957.6 C1545.2,957.8 1550.0,957.2 1556.0,957.0 C1562.0,956.8 1567.8,958.2 1573.5,956.3 C1579.2,954.4 1584.6,949.7 1590.2,945.4 C1595.8,941.1 1601.3,936.2 1606.9,930.4 C1612.5,924.5 1616.9,916.7 1623.6,910.3 C1630.3,903.9 1641.0,893.3 1647.1,891.9 C1653.2,890.5 1656.8,895.5 1660.4,901.9 C1664.0,908.3 1666.3,920.1 1668.8,930.4 C1671.3,940.7 1673.3,951.3 1675.5,963.8 C1677.7,976.3 1680.2,991.6 1682.2,1005.6 C1684.2,1019.6 1685.6,1035.1 1687.2,1047.5 C1688.8,1059.9 1690.3,1069.6 1691.7,1080.0 C1693.1,1090.4 1694.2,1100.5 1695.5,1110.0 C1696.8,1119.5 1697.4,1125.7 1699.3,1137.0 C1701.2,1148.3 1704.5,1167.4 1707.0,1178.0 C1709.5,1188.6 1711.9,1198.2 1714.5,1200.5 C1717.1,1202.8 1720.1,1197.2 1722.8,1192.0 C1725.5,1186.8 1727.9,1177.2 1730.4,1169.1 C1732.9,1161.0 1735.5,1151.6 1738.0,1143.3 C1740.5,1135.0 1743.1,1126.1 1745.6,1119.0 C1748.1,1111.9 1749.4,1107.5 1753.2,1100.7 C1757.0,1093.9 1763.2,1084.3 1768.3,1078.0 C1773.3,1071.7 1778.4,1068.4 1783.5,1062.8 C1788.6,1057.2 1793.3,1052.7 1798.7,1044.6 C1804.1,1036.5 1810.3,1022.7 1816.0,1014.0 C1821.7,1005.3 1827.1,998.1 1832.7,992.3 C1838.3,986.4 1844.6,982.4 1849.5,978.9 C1854.4,975.4 1855.9,973.8 1862.0,971.3 C1868.1,968.8 1876.1,966.0 1886.2,964.0 C1896.3,962.0 1908.4,960.6 1922.5,959.2 C1936.6,957.8 1954.7,956.6 1970.8,955.6 C1986.9,954.6 2000.2,954.0 2019.1,953.2 C2038.0,952.4 2073.5,951.1 2084.4,950.7" fill="none" stroke="#7d0a80" stroke-width="5.2" stroke-linejoin="round" stroke-linecap="butt" />
<path d="M1182.0,949.3 C1190.2,949.1 1216.7,949.1 1231.0,948.3 C1245.3,947.5 1255.0,945.8 1268.0,944.6 C1281.0,943.4 1296.7,941.4 1309.0,941.3 C1321.3,941.1 1330.2,942.6 1342.0,943.7 C1353.8,944.8 1366.0,946.9 1380.0,948.0 C1394.0,949.1 1410.7,950.3 1426.0,950.2 C1441.3,950.1 1458.0,948.5 1472.0,947.4 C1486.0,946.3 1498.7,944.6 1510.0,943.7 C1521.3,942.8 1532.2,942.8 1540.0,942.1 C1547.8,941.4 1551.1,941.6 1556.7,939.6 C1562.3,937.6 1567.9,935.3 1573.5,930.4 C1579.1,925.5 1584.6,918.1 1590.2,910.3 C1595.8,902.5 1601.3,891.6 1606.9,883.5 C1612.5,875.4 1619.0,866.9 1623.6,861.8 C1628.2,856.6 1631.2,852.9 1634.5,852.6 C1637.8,852.3 1640.8,855.0 1643.7,860.1 C1646.6,865.2 1649.9,874.6 1652.1,883.5 C1654.3,892.4 1655.4,903.0 1657.1,913.6 C1658.8,924.2 1660.4,933.2 1662.1,947.1 C1663.8,961.0 1665.5,980.6 1667.1,997.3 C1668.7,1014.0 1670.3,1032.0 1671.5,1047.5 C1672.7,1063.0 1673.6,1075.1 1674.5,1090.0 C1675.4,1104.9 1675.9,1117.8 1677.0,1137.0 C1678.1,1156.2 1679.5,1186.5 1681.0,1205.3 C1682.5,1224.1 1684.5,1237.5 1686.0,1250.0 C1687.5,1262.5 1688.9,1266.7 1690.0,1280.0 C1691.1,1293.3 1691.5,1313.1 1692.6,1330.0 C1693.7,1346.9 1695.1,1367.5 1696.4,1381.4 C1697.7,1395.3 1698.8,1403.9 1700.3,1413.5 C1701.8,1423.1 1703.6,1433.0 1705.4,1439.2 C1707.2,1445.5 1709.1,1453.1 1711.2,1451.0 C1713.3,1448.9 1716.3,1434.8 1718.3,1426.4 C1720.3,1418.0 1721.7,1410.4 1723.4,1400.7 C1725.1,1391.0 1726.9,1379.2 1728.6,1368.5 C1730.3,1357.8 1732.0,1347.1 1733.7,1336.4 C1735.4,1325.7 1737.1,1315.0 1738.8,1304.3 C1740.5,1293.6 1742.1,1282.8 1744.0,1272.1 C1745.9,1261.4 1748.6,1249.7 1750.4,1240.0 C1752.2,1230.3 1753.3,1222.0 1755.0,1214.0 C1756.7,1206.0 1758.0,1200.7 1760.7,1191.9 C1763.4,1183.2 1767.6,1171.6 1771.4,1161.5 C1775.2,1151.4 1779.2,1141.2 1783.5,1131.1 C1787.8,1121.0 1793.4,1109.5 1797.2,1100.7 C1801.0,1091.9 1803.3,1085.6 1806.3,1078.0 C1809.3,1070.4 1812.6,1061.9 1815.4,1055.2 C1818.2,1048.5 1820.2,1044.2 1823.0,1038.0 C1825.8,1031.8 1829.0,1024.2 1832.0,1018.0 C1835.0,1011.8 1836.8,1006.8 1841.1,1000.6 C1845.4,994.4 1853.3,985.3 1857.8,980.6 C1862.3,975.9 1863.3,976.1 1868.0,972.5 C1872.7,968.9 1879.1,962.8 1886.2,959.2 C1893.3,955.7 1900.3,953.4 1910.4,951.2 C1920.5,949.1 1932.6,947.3 1946.7,946.3 C1960.8,945.3 1978.9,945.5 1995.0,945.3 C2011.1,945.1 2028.4,945.0 2043.3,944.9 C2058.2,944.8 2077.6,944.6 2084.4,944.5" fill="none" stroke="#22ec22" stroke-width="5.2" stroke-linejoin="round" stroke-linecap="butt" />
<line x1="304.7" y1="1159.4" x2="304.7" y2="1396.2" stroke="#000" stroke-width="3.2" stroke-linecap="butt"/>
<line x1="303.09999999999997" y1="1394.7" x2="604" y2="1394.7" stroke="#000" stroke-width="3.2" stroke-linecap="butt"/>
<line x1="380.7" y1="1394.7" x2="380.7" y2="1401.7" stroke="#000" stroke-width="3" stroke-linecap="butt"/>
<line x1="460.1" y1="1394.7" x2="460.1" y2="1401.7" stroke="#000" stroke-width="3" stroke-linecap="butt"/>
<line x1="539.6" y1="1394.7" x2="539.6" y2="1401.7" stroke="#000" stroke-width="3" stroke-linecap="butt"/>
<line x1="340.9" y1="1394.7" x2="340.9" y2="1399.7" stroke="#000" stroke-width="3" stroke-linecap="butt"/>
<line x1="420.4" y1="1394.7" x2="420.4" y2="1399.7" stroke="#000" stroke-width="3" stroke-linecap="butt"/>
<line x1="499.8" y1="1394.7" x2="499.8" y2="1399.7" stroke="#000" stroke-width="3" stroke-linecap="butt"/>
<line x1="579.3" y1="1394.7" x2="579.3" y2="1399.7" stroke="#000" stroke-width="3" stroke-linecap="butt"/>
<text x="355.16" y="1429.07" font-family="Liberation Sans, Arial, sans-serif" font-style="normal" font-size="30.5">675</text>
<text x="434.48" y="1429.07" font-family="Liberation Sans, Arial, sans-serif" font-style="normal" font-size="30.5">700</text>
<text x="514.06" y="1429.07" font-family="Liberation Sans, Arial, sans-serif" font-style="normal" font-size="30.5">725</text>
<line x1="1273" y1="1155.9" x2="1273" y2="1386.1" stroke="#000" stroke-width="3.2" stroke-linecap="butt"/>
<line x1="1271.4" y1="1384.6" x2="1569.6" y2="1384.6" stroke="#000" stroke-width="3.2" stroke-linecap="butt"/>
<line x1="1344.5" y1="1384.6" x2="1344.5" y2="1391.6" stroke="#000" stroke-width="3" stroke-linecap="butt"/>
<line x1="1419.5" y1="1384.6" x2="1419.5" y2="1391.6" stroke="#000" stroke-width="3" stroke-linecap="butt"/>
<line x1="1495.5" y1="1384.6" x2="1495.5" y2="1391.6" stroke="#000" stroke-width="3" stroke-linecap="butt"/>
<line x1="1307.4" y1="1384.6" x2="1307.4" y2="1389.6" stroke="#000" stroke-width="3" stroke-linecap="butt"/>
<line x1="1381.6" y1="1384.6" x2="1381.6" y2="1389.6" stroke="#000" stroke-width="3" stroke-linecap="butt"/>
<line x1="1457.5" y1="1384.6" x2="1457.5" y2="1389.6" stroke="#000" stroke-width="3" stroke-linecap="butt"/>
<line x1="1533.4" y1="1384.6" x2="1533.4" y2="1389.6" stroke="#000" stroke-width="3" stroke-linecap="butt"/>
<text x="1318.96" y="1415.57" font-family="Liberation Sans, Arial, sans-serif" font-style="normal" font-size="30.5">675</text>
<text x="1393.88" y="1415.57" font-family="Liberation Sans, Arial, sans-serif" font-style="normal" font-size="30.5">700</text>
<text x="1469.96" y="1415.57" font-family="Liberation Sans, Arial, sans-serif" font-style="normal" font-size="30.5">725</text>
<path d="M304.7,1261.8 C309.4,1262.2 322.4,1264.5 333.0,1264.5 C343.6,1264.5 358.9,1263.4 368.3,1261.8 C377.7,1260.2 382.1,1258.6 389.5,1254.8 C396.9,1251.0 405.6,1244.2 412.4,1238.9 C419.2,1233.6 424.2,1227.4 430.1,1223.0 C436.0,1218.6 443.4,1214.8 447.8,1212.4 C452.2,1210.1 453.1,1208.9 456.6,1208.9 C460.1,1208.9 463.0,1208.9 468.9,1212.4 C474.8,1215.9 485.1,1224.9 491.9,1230.1 C498.7,1235.2 503.7,1240.5 509.6,1243.3 C515.5,1246.1 518.4,1246.3 527.2,1246.8 C536.0,1247.2 549.7,1246.4 562.5,1246.0 C575.3,1245.6 597.1,1244.5 604.0,1244.2" fill="none" stroke="#7d0a80" stroke-width="3.7" stroke-linejoin="round" stroke-linecap="butt" />
<path d="M304.7,1245.1 C309.4,1245.5 323.9,1247.8 333.0,1247.7 C342.1,1247.6 352.1,1246.1 359.5,1244.2 C366.9,1242.3 371.2,1239.7 377.1,1236.2 C383.0,1232.7 388.9,1228.2 394.8,1223.0 C400.7,1217.8 406.5,1212.4 412.4,1205.3 C418.3,1198.2 425.1,1187.1 430.1,1180.6 C435.1,1174.1 438.4,1169.6 442.5,1166.5 C446.6,1163.4 450.7,1161.8 454.8,1162.1 C458.9,1162.4 462.5,1164.0 467.2,1168.3 C471.9,1172.6 477.5,1180.7 483.1,1187.7 C488.7,1194.8 494.8,1204.7 500.7,1210.6 C506.6,1216.5 511.0,1220.6 518.4,1223.0 C525.8,1225.4 536.1,1224.1 544.9,1224.8 C553.7,1225.5 561.5,1227.3 571.4,1227.4 C581.2,1227.5 598.6,1225.9 604.0,1225.6" fill="none" stroke="#22ec22" stroke-width="5.0" stroke-linejoin="round" stroke-linecap="butt" />
<path d="M1273.0,1274.2 C1279.5,1274.5 1299.5,1276.7 1311.8,1276.0 C1324.1,1275.3 1336.8,1272.9 1347.1,1269.8 C1357.4,1266.7 1364.8,1260.4 1373.6,1257.4 C1382.4,1254.5 1392.7,1252.2 1400.1,1252.1 C1407.5,1251.9 1410.4,1253.5 1417.8,1256.5 C1425.2,1259.5 1435.4,1266.0 1444.2,1269.8 C1453.0,1273.6 1460.4,1277.4 1470.7,1279.5 C1481.0,1281.6 1495.7,1281.6 1506.0,1282.2 C1516.3,1282.8 1525.1,1283.5 1532.5,1283.0 C1539.9,1282.5 1544.0,1281.0 1550.2,1279.5 C1556.4,1278.0 1566.4,1275.1 1569.6,1274.2" fill="none" stroke="#7d0a80" stroke-width="3.7" stroke-linejoin="round" stroke-linecap="butt" />
<path d="M1273.0,1225.6 C1278.0,1225.9 1293.6,1228.1 1303.0,1227.4 C1312.4,1226.7 1320.7,1224.9 1329.5,1221.2 C1338.3,1217.5 1348.1,1211.0 1356.0,1205.3 C1363.9,1199.6 1369.2,1191.8 1377.1,1186.8 C1385.0,1181.8 1396.8,1176.0 1403.6,1175.3 C1410.4,1174.6 1412.5,1178.6 1417.8,1182.4 C1423.1,1186.2 1428.1,1191.5 1435.4,1198.3 C1442.8,1205.1 1453.1,1217.1 1461.9,1223.0 C1470.7,1228.9 1479.6,1231.1 1488.4,1233.6 C1497.2,1236.1 1506.1,1237.8 1514.9,1238.0 C1523.7,1238.2 1532.3,1237.0 1541.4,1234.5 C1550.5,1232.0 1564.9,1224.9 1569.6,1223.0" fill="none" stroke="#22ec22" stroke-width="5.0" stroke-linejoin="round" stroke-linecap="butt" />
<circle cx="318.8" cy="1366.9" r="3.6" fill="#7d0a80"/>
<circle cx="345.3" cy="1367.8" r="3.6" fill="#7d0a80"/>
<circle cx="370.9" cy="1367.8" r="3.6" fill="#7d0a80"/>
<circle cx="396.5" cy="1367.8" r="3.6" fill="#7d0a80"/>
<circle cx="423" cy="1365.1" r="3.6" fill="#7d0a80"/>
<circle cx="449.2" cy="1365.1" r="3.6" fill="#7d0a80"/>
<circle cx="475.1" cy="1365.1" r="3.6" fill="#7d0a80"/>
<circle cx="501.6" cy="1363.4" r="3.6" fill="#7d0a80"/>
<circle cx="526.3" cy="1359.8" r="3.6" fill="#7d0a80"/>
<circle cx="552.8" cy="1356.3" r="3.6" fill="#7d0a80"/>
<circle cx="578.4" cy="1353.7" r="3.6" fill="#7d0a80"/>
<circle cx="603.1" cy="1350.1" r="3.6" fill="#7d0a80"/>
<circle cx="1295" cy="1344.8" r="3.6" fill="#7d0a80"/>
<circle cx="1319.8" cy="1346.3" r="3.6" fill="#7d0a80"/>
<circle cx="1345.4" cy="1344.5" r="3.6" fill="#7d0a80"/>
<circle cx="1370.1" cy="1344.8" r="3.6" fill="#7d0a80"/>
<circle cx="1394.8" cy="1343.4" r="3.6" fill="#7d0a80"/>
<circle cx="1419.5" cy="1344.8" r="3.6" fill="#7d0a80"/>
<circle cx="1444.2" cy="1348.4" r="3.6" fill="#7d0a80"/>
<circle cx="1469" cy="1350.1" r="3.6" fill="#7d0a80"/>
<circle cx="1494.6" cy="1351.9" r="3.6" fill="#7d0a80"/>
<circle cx="1519.3" cy="1350.1" r="3.6" fill="#7d0a80"/>
<circle cx="1544" cy="1349.3" r="3.6" fill="#7d0a80"/>
<circle cx="1568.7" cy="1351.9" r="3.6" fill="#7d0a80"/>
<line x1="940.4" y1="1124.6" x2="940.4" y2="1306.5" stroke="#000" stroke-width="5.2" stroke-linecap="butt"/>
<line x1="931.9" y1="1124.6" x2="948.9" y2="1124.6" stroke="#000" stroke-width="5.2" stroke-linecap="butt"/>
<line x1="931.9" y1="1306.5" x2="948.9" y2="1306.5" stroke="#000" stroke-width="5.2" stroke-linecap="butt"/>
<line x1="1887" y1="1118.6" x2="1887" y2="1300.7" stroke="#000" stroke-width="5.2" stroke-linecap="butt"/>
<line x1="1878.3" y1="1118.6" x2="1895.7" y2="1118.6" stroke="#000" stroke-width="5.2" stroke-linecap="butt"/>
<line x1="1878.3" y1="1300.7" x2="1895.7" y2="1300.7" stroke="#000" stroke-width="5.2" stroke-linecap="butt"/>
<line x1="432.6" y1="1256.6" x2="432.6" y2="1324.4" stroke="#000" stroke-width="3.4" stroke-linecap="butt"/>
<line x1="428.6" y1="1256.6" x2="436.6" y2="1256.6" stroke="#000" stroke-width="3.2" stroke-linecap="butt"/>
<line x1="428.6" y1="1324.4" x2="436.6" y2="1324.4" stroke="#000" stroke-width="3.2" stroke-linecap="butt"/>
<path d="M1395.3,1268.2 H1391 V1332.3 H1395.3" fill="none" stroke="#000" stroke-width="3.4"/>
<text x="0.00" y="0.00" font-family="Liberation Serif, Times New Roman, serif" font-style="normal" font-size="76" transform="translate(825.59,122.44) scale(0.8,1)">1</text>
<text x="792.08" y="225.78" font-family="Liberation Serif, Times New Roman, serif" font-style="normal" font-size="76">2</text>
<text x="870.37" y="553.50" font-family="Liberation Serif, Times New Roman, serif" font-style="normal" font-size="76">3</text>
<text x="797.76" y="644.03" font-family="Liberation Serif, Times New Roman, serif" font-style="normal" font-size="76">4</text>
<text x="1601.03" y="159.08" font-family="Liberation Serif, Times New Roman, serif" font-style="normal" font-size="76">2</text>
<text x="0.00" y="0.00" font-family="Liberation Serif, Times New Roman, serif" font-style="normal" font-size="76" transform="translate(1720.24,91.80) scale(0.8,1)">1</text>
<text x="1679.56" y="600.63" font-family="Liberation Serif, Times New Roman, serif" font-style="normal" font-size="76">4</text>
<text x="1793.67" y="581.95" font-family="Liberation Serif, Times New Roman, serif" font-style="normal" font-size="76">3</text>
<text x="806.73" y="1037.48" font-family="Liberation Serif, Times New Roman, serif" font-style="normal" font-size="76">2</text>
<text x="0.00" y="0.00" font-family="Liberation Serif, Times New Roman, serif" font-style="normal" font-size="76" transform="translate(805.49,1236.19) scale(0.8,1)">1</text>
<text x="838.37" y="1408.90" font-family="Liberation Serif, Times New Roman, serif" font-style="normal" font-size="76">3</text>
<text x="953.52" y="1239.00" font-family="Liberation Serif, Times New Roman, serif" font-style="normal" font-size="62">0.2</text>
<text x="1700.38" y="970.48" font-family="Liberation Serif, Times New Roman, serif" font-style="normal" font-size="76">2</text>
<text x="0.00" y="0.00" font-family="Liberation Serif, Times New Roman, serif" font-style="normal" font-size="76" transform="translate(1701.89,1129.00) scale(0.8,1)">1</text>
<text x="1694.07" y="1307.45" font-family="Liberation Serif, Times New Roman, serif" font-style="normal" font-size="76">3</text>
<text x="1913.76" y="1224.85" font-family="Liberation Serif, Times New Roman, serif" font-style="normal" font-size="62">0.2</text>
<text x="545.88" y="1217.45" font-family="Liberation Serif, Times New Roman, serif" font-style="normal" font-size="74">3</text>
<text x="0.00" y="0.00" font-family="Liberation Serif, Times New Roman, serif" font-style="normal" font-size="74" transform="translate(605.56,1276.38) scale(0.8,1)">1</text>
<text x="613.22" y="1366.62" font-family="Liberation Serif, Times New Roman, serif" font-style="normal" font-size="74">2</text>
<text x="449.33" y="1300.29" font-family="Liberation Serif, Times New Roman, serif" font-style="normal" font-size="39.5">0.01</text>
<text x="1573.73" y="1209.95" font-family="Liberation Serif, Times New Roman, serif" font-style="normal" font-size="74">3</text>
<text x="0.00" y="0.00" font-family="Liberation Serif, Times New Roman, serif" font-style="normal" font-size="74" transform="translate(1577.76,1291.79) scale(0.8,1)">1</text>
<text x="1580.17" y="1365.77" font-family="Liberation Serif, Times New Roman, serif" font-style="normal" font-size="74">2</text>
<text x="1406.08" y="1321.49" font-family="Liberation Serif, Times New Roman, serif" font-style="normal" font-size="39.5">0.01</text>
<text x="0.00" y="0.00" font-family="Liberation Serif, Times New Roman, serif" font-style="italic" font-size="147" transform="translate(983.85,161.86) scale(1.08,1)" stroke="#fff" stroke-width="2.2">a</text>
<text x="1975.17" y="176.68" font-family="Liberation Serif, Times New Roman, serif" font-style="italic" font-size="147" stroke="#fff" stroke-width="2.2">b</text>
<text x="1027.67" y="882.16" font-family="Liberation Serif, Times New Roman, serif" font-style="italic" font-size="147" stroke="#fff" stroke-width="2.2">c</text>
<text x="0.00" y="0.00" font-family="Liberation Serif, Times New Roman, serif" font-style="italic" font-size="147" transform="translate(2008.85,904.98) scale(1.1,1)" stroke="#fff" stroke-width="2.2">d</text>
<text transform="translate(110.55,934.92) rotate(-90)" font-family="Liberation Serif, Times New Roman, serif" font-size="95">Absorbance</text>
<text x="872.15" y="1661.64" font-family="Liberation Serif, Times New Roman, serif" font-style="normal" font-size="74">Wavelength (nm)</text>
</g>
</svg></body></html>
